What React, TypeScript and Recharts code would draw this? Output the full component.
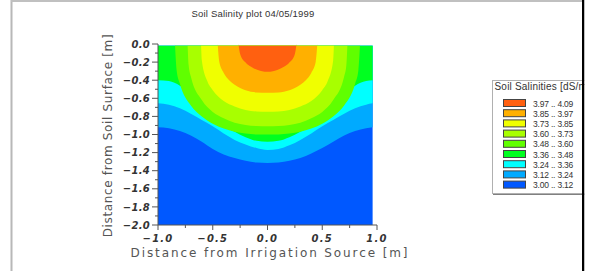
import React from "react"
import { Area, ComposedChart, XAxis, YAxis } from "recharts"

const chartTitle = "Soil Salinity plot 04/05/1999"
const legendTitle = "Soil Salinities [dS/m]"
const xTitle = "Distance from Irrigation Source [m]"
const yTitle = "Distance from Soil Surface [m]"

// legend, top to bottom
const bandLabels = [
  "3.97 .. 4.09",
  "3.85 .. 3.97",
  "3.73 .. 3.85",
  "3.60 .. 3.73",
  "3.48 .. 3.60",
  "3.36 .. 3.48",
  "3.24 .. 3.36",
  "3.12 .. 3.24",
  "3.00 .. 3.12",
]
const bandColors = [
  "#ff6010",
  "#ffb000",
  "#f0ff00",
  "#a8ff00",
  "#60ff00",
  "#00ff20",
  "#00ffff",
  "#00aaff",
  "#0058ff",
]

const xTicks = [-1, -0.75, -0.5, -0.25, 0, 0.25, 0.5, 0.75, 1]
const yTicks = [
  0, -0.1, -0.2, -0.3, -0.4, -0.5, -0.6, -0.7, -0.8, -0.9, -1.0,
  -1.1, -1.2, -1.3, -1.4, -1.5, -1.6, -1.7, -1.8, -1.9, -2.0,
]

// lower edge of each band: [distance from source (m), depth (m)]
const edge397 = [
  [-0.265, 0], [-0.25, 0.11], [-0.2, 0.205], [-0.15, 0.252], [-0.1, 0.283], [-0.05, 0.3],
  [0, 0.306], [0.05, 0.3], [0.1, 0.283], [0.15, 0.252], [0.2, 0.205], [0.25, 0.11], [0.265, 0],
]
const edge385 = [
  [-0.455, 0], [-0.44, 0.2], [-0.4, 0.32], [-0.35, 0.4], [-0.3, 0.45], [-0.2, 0.51], [-0.1, 0.535],
  [0, 0.54], [0.1, 0.535], [0.2, 0.51], [0.3, 0.45], [0.35, 0.4], [0.4, 0.32], [0.44, 0.2], [0.455, 0],
]
const edge373 = [
  [-0.607, 0], [-0.6, 0.18], [-0.55, 0.41], [-0.5, 0.51], [-0.4, 0.63], [-0.3, 0.69], [-0.2, 0.73],
  [-0.1, 0.745], [0, 0.748], [0.1, 0.745], [0.2, 0.73], [0.3, 0.69], [0.4, 0.63], [0.5, 0.51],
  [0.55, 0.41], [0.6, 0.18], [0.607, 0],
]
const edge360 = [
  [-0.73, 0], [-0.72, 0.235], [-0.7, 0.36], [-0.6, 0.62], [-0.5, 0.75], [-0.4, 0.82], [-0.3, 0.87],
  [-0.2, 0.895], [-0.1, 0.907], [0, 0.91], [0.1, 0.907], [0.2, 0.895], [0.3, 0.87], [0.4, 0.82],
  [0.5, 0.75], [0.6, 0.62], [0.7, 0.36], [0.72, 0.235], [0.73, 0],
]
const edge348 = [
  [-0.845, 0], [-0.83, 0.29], [-0.8, 0.44], [-0.7, 0.68], [-0.6, 0.8], [-0.5, 0.88], [-0.4, 0.935],
  [-0.3, 0.97], [-0.2, 0.99], [-0.1, 1.0], [0, 1.0], [0.1, 1.0], [0.2, 0.99], [0.3, 0.97],
  [0.4, 0.935], [0.5, 0.88], [0.6, 0.8], [0.7, 0.68], [0.8, 0.44], [0.83, 0.29], [0.845, 0],
]
const edge336 = [
  [-1, 0.4], [-0.9, 0.41], [-0.8, 0.46], [-0.7, 0.55], [-0.6, 0.66], [-0.5, 0.79], [-0.4, 0.9],
  [-0.3, 0.97], [-0.2, 1.03], [-0.1, 1.07], [0, 1.08], [0.1, 1.07], [0.2, 1.03], [0.3, 0.97],
  [0.4, 0.9], [0.5, 0.79], [0.6, 0.66], [0.7, 0.55], [0.8, 0.46], [0.9, 0.41], [0.96, 0.4],
]
const edge324 = [
  [-1, 0.655], [-0.9, 0.67], [-0.8, 0.71], [-0.7, 0.77], [-0.6, 0.84], [-0.5, 0.91], [-0.4, 0.99],
  [-0.3, 1.06], [-0.2, 1.11], [-0.1, 1.15], [0, 1.17], [0.1, 1.16], [0.2, 1.12], [0.3, 1.06],
  [0.4, 0.99], [0.5, 0.91], [0.6, 0.84], [0.7, 0.77], [0.8, 0.71], [0.9, 0.67], [0.96, 0.655],
]
const edge312 = [
  [-1, 0.92], [-0.9, 0.93], [-0.8, 0.96], [-0.7, 1.01], [-0.6, 1.08], [-0.5, 1.16], [-0.4, 1.22],
  [-0.3, 1.26], [-0.2, 1.29], [-0.1, 1.31], [0, 1.315], [0.1, 1.31], [0.2, 1.29], [0.3, 1.26],
  [0.4, 1.21], [0.5, 1.15], [0.6, 1.08], [0.7, 1.01], [0.8, 0.96], [0.9, 0.93], [0.96, 0.92],
]
const edge300 = [
  [-1, 2], [0.96, 2],
]

const edges = [edge397, edge385, edge373, edge360, edge348, edge336, edge324, edge312, edge300]

// one table, every band's depth stored as a negative y
const allX = Array.from(new Set(edges.flat().map((p) => p[0]))).sort((a, b) => a - b)
const rows = allX.map((x) => {
  const row: Record<string, number> = { x }
  edges.forEach((e, i) => {
    const p = e.find((q) => q[0] === x)
    if (p) row["b" + i] = -p[1]
  })
  return row
})

const fmt = (v: number) => v.toFixed(1).replace("-", "\u2212")

const tickFont = {
  fontFamily: "DejaVu Sans",
  fontStyle: "italic",
  fontWeight: 700,
  fontSize: 10,
  fill: "#333",
}

const XTick = (props: any) => {
  const { x, y, payload } = props
  const v = payload.value
  const major = Math.abs(v * 2 - Math.round(v * 2)) < 1e-6
  return (
    <g>
      <line x1={x} x2={x} y1={y} y2={y + (major ? 5 : 3)} stroke="#555" />
      {major && (
        <text x={x} y={y + 16.5} textAnchor="middle" style={{ ...tickFont, letterSpacing: 1.2 }}>
          {fmt(v)}
        </text>
      )}
    </g>
  )
}

const YTick = (props: any) => {
  const { x, y, payload } = props
  const v = payload.value
  const major = Math.abs(v * 5 - Math.round(v * 5)) < 1e-6
  return (
    <g>
      <line x1={x - (major ? 6 : 3)} x2={x} y1={y} y2={y} stroke="#555" />
      {major && (
        <text x={x - 8} y={y + 3.6} textAnchor="end" style={{ ...tickFont, letterSpacing: 0.3 }}>
          {fmt(v)}
        </text>
      )}
    </g>
  )
}

const Legend = () => (
  <g>
    <rect x={492.5} y={80.5} width={120} height={113} fill="#fff" stroke="#b0b0b0" />
    <line x1={493} x2={614} y1={194.5} y2={194.5} stroke="#808080" />
    <text x={494.5} y={89.5} style={{ fontFamily: "Liberation Sans", fontSize: 10, fill: "#333", letterSpacing: 0.2 }}>
      {legendTitle}
    </text>
    {bandLabels.map((label, i) => (
      <g key={label}>
        <rect x={503.5} y={99.5 + i * 10.2} width={22} height={7} fill={bandColors[i]} stroke="#444" />
        <text
          x={533}
          y={106.5 + i * 10.2}
          style={{ fontFamily: "Liberation Sans", fontSize: 8.5, fill: "#333", letterSpacing: -0.2 }}
        >
          {label}
        </text>
      </g>
    ))}
  </g>
)

export default function App() {
  return (
    <div style={{ position: "absolute", left: 0, top: 0, width: 589, height: 271, background: "#fff" }}>
      <ComposedChart width={589} height={271} data={rows} margin={{ top: 44, right: 212, bottom: 16, left: 108 }}>
        {edges
          .map((_, i) => (
            <Area
              key={"b" + i}
              dataKey={"b" + i}
              type="monotone"
              baseValue={-0.02}
              connectNulls
              stroke="none"
              fill={bandColors[i]}
              fillOpacity={1}
              dot={false}
              activeDot={false}
              isAnimationActive={false}
            />
          ))
          .reverse()}
        <XAxis
          dataKey="x"
          type="number"
          domain={[-1, 1]}
          ticks={xTicks}
          interval={0}
          tickSize={0}
          tickMargin={0}
          tickLine={false}
          tick={(p: any) => <XTick {...p} />}
          height={30}
          axisLine={{ stroke: "#555" }}
        />
        <XAxis
          xAxisId="top"
          orientation="top"
          type="number"
          domain={[-1, 1]}
          height={0}
          tick={false}
          tickLine={false}
          axisLine={{ stroke: "#b4b4b4", strokeWidth: 2 }}
        />
        <YAxis
          type="number"
          domain={[-2, 0]}
          ticks={yTicks}
          interval={0}
          tickSize={0}
          tickMargin={0}
          tickLine={false}
          tick={(p: any) => <YTick {...p} />}
          width={50}
          axisLine={{ stroke: "#555" }}
        />
        <YAxis
          yAxisId="right"
          orientation="right"
          type="number"
          domain={[-2, 0]}
          width={0}
          tick={false}
          tickLine={false}
          axisLine={{ stroke: "#b4b4b4", strokeWidth: 2 }}
        />
      </ComposedChart>
      <svg width={589} height={271} style={{ position: "absolute", left: 0, top: 0, pointerEvents: "none" }}>
        <line x1={11.5} x2={11.5} y1={0} y2={271} stroke="#b8b8b8" strokeWidth={2} />
        <line x1={11} x2={582} y1={1} y2={1} stroke="#c0c0c0" strokeWidth={2} />
        <text
          x={253}
          y={17}
          textAnchor="middle"
          style={{ fontFamily: "Liberation Sans", fontSize: 9.5, fill: "#333", letterSpacing: 0.2 }}
        >
          {chartTitle}
        </text>
        <text
          x={270}
          y={257}
          textAnchor="middle"
          style={{ fontFamily: "DejaVu Sans", fontSize: 12, fill: "#555", letterSpacing: 1.9 }}
        >
          {xTitle}
        </text>
        <text
          transform="translate(111.5,135.5) rotate(-90)"
          textAnchor="middle"
          style={{ fontFamily: "DejaVu Sans", fontSize: 12, fill: "#555", letterSpacing: 0.65 }}
        >
          {yTitle}
        </text>
        <Legend />
        <rect x={582} y={0} width={2.5} height={271} fill="#000" />
        <rect x={584.5} y={0} width={4.5} height={271} fill="#fff" />
      </svg>
    </div>
  )
}
